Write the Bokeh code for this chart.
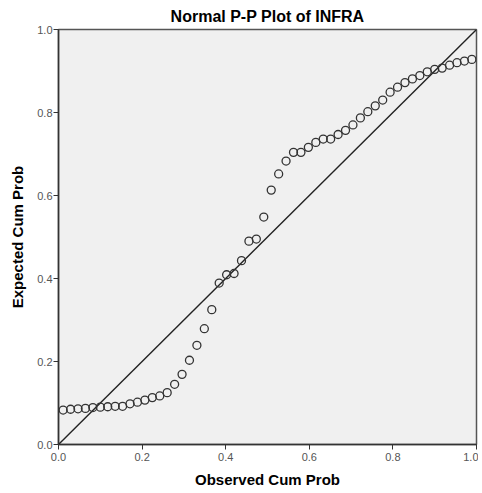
from bokeh.plotting import figure
from bokeh.models import PrintfTickFormatter, FixedTicker, Range1d
from bokeh.embed import file_html
from bokeh.resources import INLINE

observed = [0.0111, 0.0289, 0.0467, 0.0644, 0.0822, 0.1000, 0.1178, 0.1356, 0.1533, 0.1711,
            0.1889, 0.2067, 0.2244, 0.2422, 0.2600, 0.2778, 0.2956, 0.3133, 0.3311, 0.3489,
            0.3667, 0.3844, 0.4022, 0.4200, 0.4378, 0.4556, 0.4733, 0.4911, 0.5089, 0.5267,
            0.5444, 0.5622, 0.5800, 0.5978, 0.6156, 0.6333, 0.6511, 0.6689, 0.6867, 0.7044,
            0.7222, 0.7400, 0.7578, 0.7756, 0.7933, 0.8111, 0.8289, 0.8467, 0.8644, 0.8822,
            0.9000, 0.9178, 0.9356, 0.9533, 0.9711, 0.9889]
expected = [0.083, 0.085, 0.086, 0.087, 0.089, 0.090, 0.091, 0.092, 0.092, 0.098,
            0.102, 0.107, 0.113, 0.117, 0.125, 0.145, 0.169, 0.203, 0.239, 0.279,
            0.325, 0.389, 0.409, 0.412, 0.443, 0.490, 0.495, 0.548, 0.613, 0.652,
            0.683, 0.704, 0.704, 0.716, 0.728, 0.736, 0.736, 0.747, 0.757, 0.770,
            0.787, 0.802, 0.816, 0.830, 0.849, 0.861, 0.872, 0.881, 0.889, 0.898,
            0.904, 0.907, 0.914, 0.920, 0.924, 0.928]
ref_line_x = [0.0, 1.0]
ref_line_y = [0.0, 1.0]
ticks = [0.0, 0.2, 0.4, 0.6, 0.8, 1.0]

FONT = "Liberation Sans"

p = figure(width=478, height=490, output_backend="svg", toolbar_location=None,
           x_range=Range1d(0, 1), y_range=Range1d(0, 1),
           min_border_left=58, min_border_right=2, min_border_top=29, min_border_bottom=46,
           title="Normal P-P Plot of INFRA")

p.title.align = "center"
p.title.text_font = FONT
p.title.text_font_size = "16px"
p.title.text_font_style = "bold"
p.title.text_color = "#000000"
p.title.offset = 0
p.title.standoff = 9

p.background_fill_color = "#f0f0f0"
p.border_fill_color = "#ffffff"
p.outline_line_color = "#555555"
p.outline_line_width = 1.5
p.grid.visible = False

for ax in (p.xaxis[0], p.yaxis[0]):
    ax.ticker = FixedTicker(ticks=ticks)
    ax.formatter = PrintfTickFormatter(format="%.1f")
    ax.minor_tick_line_color = None
    ax.major_tick_out = 5
    ax.major_tick_in = 0
    ax.major_tick_line_color = "#333333"
    ax.axis_line_color = "#333333"
    ax.axis_line_width = 1.5
    ax.major_label_text_font = FONT
    ax.major_label_text_font_size = "11px"
    ax.major_label_text_color = "#555555"
    ax.axis_label_text_font = FONT
    ax.axis_label_text_font_size = "15px"
    ax.axis_label_text_font_style = "bold"
    ax.axis_label_text_color = "#000000"

p.xaxis.axis_label = "Observed Cum Prob"
p.yaxis.axis_label = "Expected Cum Prob"
p.xaxis.major_label_standoff = 3
p.yaxis.major_label_standoff = 1
p.xaxis.axis_label_standoff = 7
p.yaxis.axis_label_standoff = 8

p.line(ref_line_x, ref_line_y, line_color="#222222", line_width=1.4)
p.scatter(observed, expected, marker="circle", size=8, fill_color=None,
          line_color="#333333", line_width=1.3)

open("out.html", "w").write(file_html(p, INLINE))
